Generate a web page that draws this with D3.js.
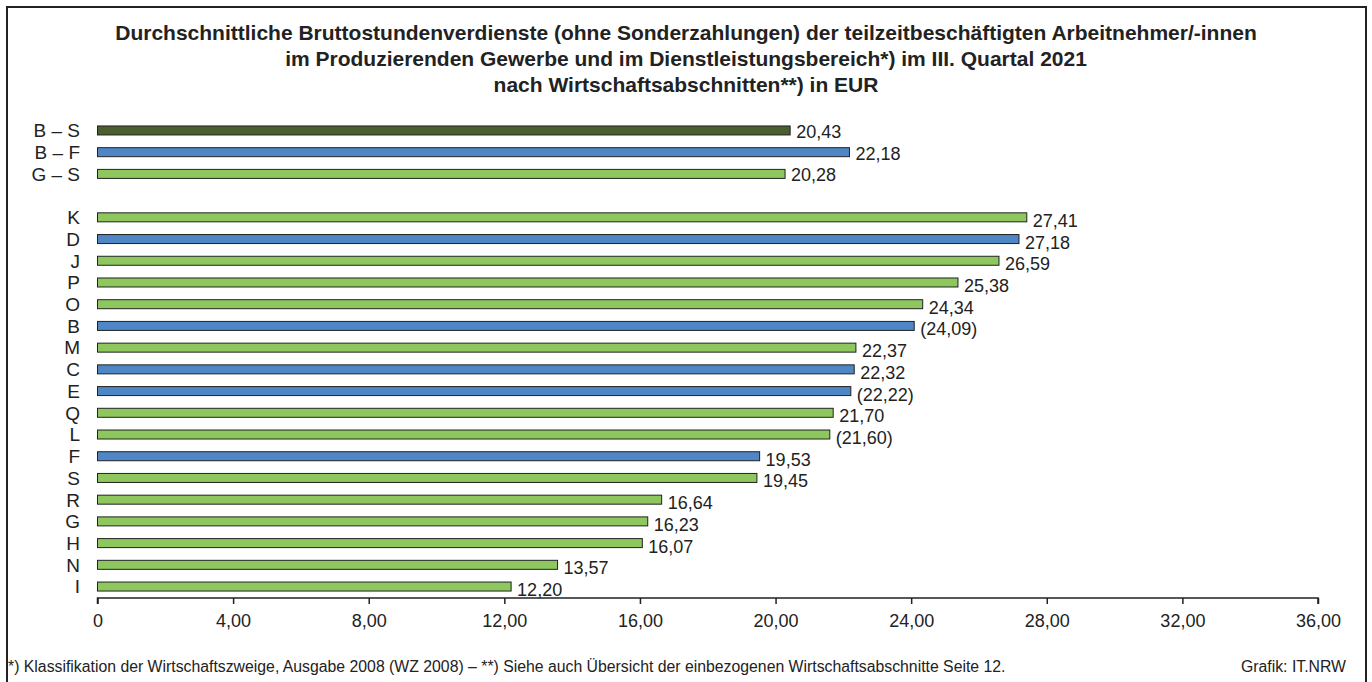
<!DOCTYPE html>
<html><head><meta charset="utf-8">
<script src="https://cdn.jsdelivr.net/npm/d3@7"></script>
<style>body{margin:0;background:#fff}svg{display:block}text{font-family:"Liberation Sans",Arial,sans-serif;fill:#222}</style>
</head><body>
<svg id="c" width="1372" height="682"></svg>
<script>
const titleLines = [
  "Durchschnittliche Bruttostundenverdienste (ohne Sonderzahlungen) der teilzeitbeschäftigten Arbeitnehmer/-innen",
  "im Produzierenden Gewerbe und im Dienstleistungsbereich*) im III. Quartal 2021",
  "nach Wirtschaftsabschnitten**) in EUR"
];
const categories = ["B – S","B – F","G – S","","K","D","J","P","O","B","M","C","E","Q","L","F","S","R","G","H","N","I"];
const values =     [20.43, 22.18, 20.28, null, 27.41, 27.18, 26.59, 25.38, 24.34, 24.09, 22.37, 22.32, 22.22, 21.70, 21.60, 19.53, 19.45, 16.64, 16.23, 16.07, 13.57, 12.20];
const groups =     ["total","prod","serv",null,"serv","prod","serv","serv","serv","prod","serv","prod","prod","serv","serv","prod","serv","serv","serv","serv","serv","serv"];
const bracketed =  [false,false,false,false,false,false,false,false,false,true,false,false,true,false,true,false,false,false,false,false,false,false];
const tickValues = [0,4,8,12,16,20,24,28,32,36];
const footnote = "*) Klassifikation der Wirtschaftszweige, Ausgabe 2008 (WZ 2008) – **) Siehe auch Übersicht der einbezogenen Wirtschaftsabschnitte Seite 12.";
const source = "Grafik: IT.NRW";

const colors = {total:"#4b5e2f", prod:"#4f86c6", serv:"#8dc75e"};
const svg = d3.select("#c");

svg.append("rect").attr("x",7).attr("y",7).attr("width",1359).attr("height",690)
  .attr("fill","none").attr("stroke","#222").attr("stroke-width",2);

svg.selectAll("text.title").data(titleLines).join("text").attr("class","title")
  .attr("x",686).attr("y",(d,i)=>40+i*26).attr("text-anchor","middle")
  .attr("font-weight","bold").attr("font-size",21).text(d=>d);

const keys = categories.map((c,i)=>i);
const x = d3.scaleLinear().domain([0,36]).range([97.5,1318]);
const y = d3.scalePoint().domain(keys).range([119.6,597.4]).padding(0.5);
const fmt = v => d3.format(".2f")(v).replace(".",",");

const rows = keys.filter(i=>values[i]!==null);
const barH = 9;

svg.selectAll("rect.bar").data(rows).join("rect").attr("class","bar")
  .attr("x",x(0)).attr("y",i=>y(i)-barH/2)
  .attr("width",i=>x(values[i])-x(0)).attr("height",barH)
  .attr("fill",i=>colors[groups[i]]).attr("stroke","#222").attr("stroke-width",1);

svg.selectAll("text.cat").data(rows).join("text").attr("class","cat")
  .attr("x",80).attr("y",i=>y(i)).attr("dy","0.36em").attr("text-anchor","end")
  .attr("font-size",19).text(i=>categories[i]);

svg.selectAll("text.val").data(rows).join("text").attr("class","val")
  .attr("x",i=>x(values[i])+6).attr("y",i=>y(i)+(i<3?1:3)).attr("dy","0.36em")
  .attr("font-size",18).text(i=>bracketed[i]?"("+fmt(values[i])+")":fmt(values[i]));

const axis = d3.axisBottom(x).tickValues(tickValues).tickSize(6).tickPadding(10)
  .tickFormat(d=>d===0?"0":fmt(d));
const g = svg.append("g").attr("transform","translate(0,598)").call(axis);
g.select(".domain").attr("stroke","#222").attr("stroke-width",1.5).attr("d","M97.5,6V0H1318V6");
g.selectAll(".tick line").attr("stroke","#222").attr("stroke-width",1.5);
g.selectAll(".tick text").attr("font-size",18).attr("fill","#222")
  .attr("font-family","'Liberation Sans',Arial,sans-serif");

svg.append("text").attr("x",8).attr("y",672).attr("font-size",15.8).text(footnote);
svg.append("text").attr("x",1346).attr("y",672).attr("text-anchor","end").attr("font-size",15.8).text(source);
</script>
</body></html>
